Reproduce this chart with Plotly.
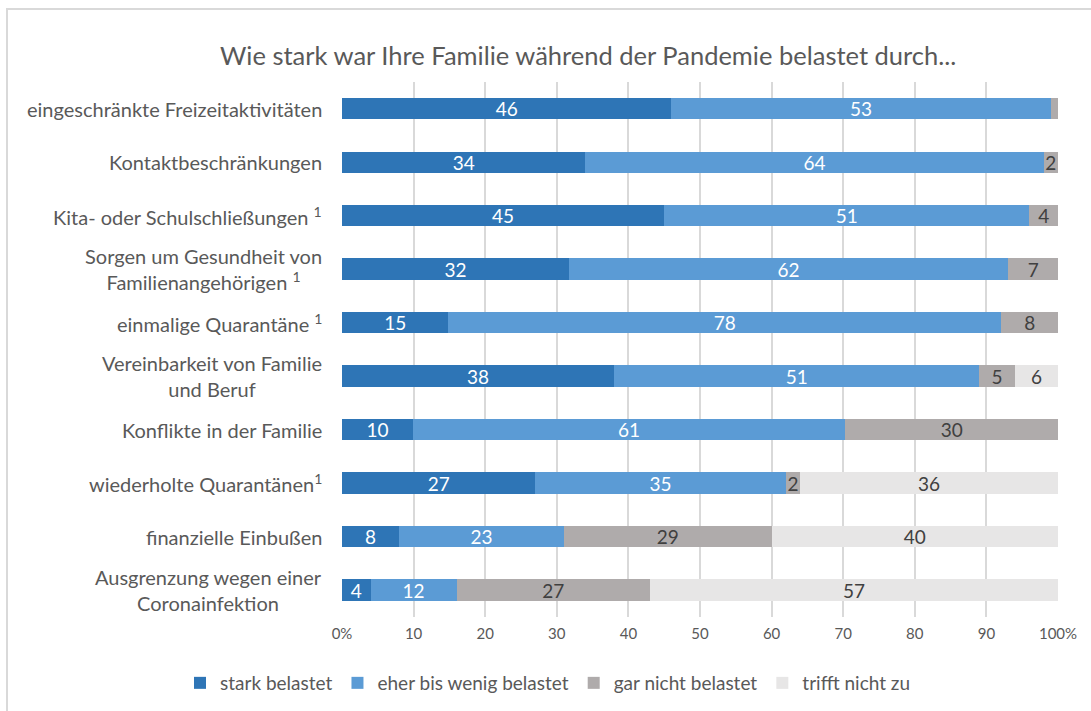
import plotly.graph_objects as go

categories = [
    "eingeschränkte Freizeitaktivitäten",
    "Kontaktbeschränkungen",
    "Kita- oder Schulschließungen <sup>1</sup>",
    "Sorgen um Gesundheit von<br>Familienangehörigen <sup>1</sup>",
    "einmalige Quarantäne <sup>1</sup>",
    "Vereinbarkeit von Familie<br>und Beruf",
    "Konflikte in der Familie",
    "wiederholte Quarantänen<sup>1</sup>",
    "finanzielle Einbußen",
    "Ausgrenzung wegen einer<br>Coronainfektion",
]
stark = [46, 34, 45, 32, 15, 38, 10, 27, 8, 4]
eher = [53, 64, 51, 62, 78, 51, 61, 35, 23, 12]
gar_nicht = [1, 2, 4, 7, 8, 5, 30, 2, 29, 27]
trifft_nicht = [0, 0, 0, 0, 0, 6, 0, 36, 40, 57]
# labels shown in bars (first grey segment unlabelled in original)
gar_nicht_labels = ["", "2", "4", "7", "8", "5", "30", "2", "29", "27"]

series_names = ["stark belastet", "eher bis wenig belastet", "gar nicht belastet", "trifft nicht zu"]
colors = ["#2E75B6", "#5B9BD5", "#AFABAB", "#E7E6E6"]
text_colors = ["white", "white", "#404040", "#404040"]

tick_vals = [0, 10, 20, 30, 40, 50, 60, 70, 80, 90, 100]
tick_text = ["0%", "10", "20", "30", "40", "50", "60", "70", "80", "90", "100%"]

FONT = "Lato"
y_keys = [f"c{i}" for i in range(len(categories))]

fig = go.Figure()
values = [stark, eher, gar_nicht, trifft_nicht]
labels = [
    [str(v) for v in stark],
    [str(v) for v in eher],
    gar_nicht_labels,
    [str(v) if v else "" for v in trifft_nicht],
]
for name, vals, lab, col, tcol in zip(series_names, values, labels, colors, text_colors):
    fig.add_trace(go.Bar(
        name=name, y=y_keys, x=vals, orientation="h",
        marker=dict(color=col, line=dict(width=0)),
        text=lab, texttemplate="%{text}", textposition="inside",
        insidetextanchor="middle", textangle=0,
        textfont=dict(color=tcol, size=19, family=FONT),
    ))

W, H = 1091, 711
ml, mr, mt, mb = 342, 33, 82, 94
pw, ph = W - ml - mr, H - mt - mb

def px_x(p):
    return (p - ml) / pw

def px_y(p):
    return (H - mb - p) / ph

annotations = []
for key, cat in zip(y_keys, categories):
    annotations.append(dict(
        xref="paper", yref="y", x=px_x(324), y=key, text=cat,
        xanchor="right", yanchor="middle", align="center", showarrow=False,
        font=dict(size=20, color="#595959", family=FONT),
    ))
annotations.append(dict(
    xref="paper", yref="paper", x=px_x(588), y=px_y(55),
    text="Wie stark war Ihre Familie während der Pandemie belastet durch...",
    xanchor="center", yanchor="middle", showarrow=False,
    font=dict(size=25.5, color="#595959", family=FONT),
))

fig.update_layout(
    width=W, height=H,
    margin=dict(l=ml, r=mr, t=mt, b=mb, autoexpand=False),
    barmode="stack", barnorm="percent", bargap=0.6,
    plot_bgcolor="white", paper_bgcolor="white",
    font=dict(family=FONT, color="#595959"),
    uniformtext=dict(minsize=19, mode="show"),
    showlegend=True,
    legend=dict(
        orientation="h", x=px_x(180), y=px_y(683), xanchor="left", yanchor="middle",
        font=dict(size=19, color="#595959", family=FONT),
        traceorder="normal", itemwidth=30,
    ),
    annotations=annotations,
    shapes=[dict(
        type="rect", xref="paper", yref="paper",
        x0=px_x(7), x1=px_x(1100), y0=px_y(9), y1=px_y(720),
        line=dict(color="#D9D9D9", width=2), layer="below",
    )],
)
fig.update_xaxes(
    range=[0, 100], tickvals=tick_vals, ticktext=tick_text,
    showgrid=True, gridcolor="#D9D9D9", gridwidth=1.5,
    zeroline=False, showline=False,
    tickfont=dict(size=15, color="#595959", family=FONT),
    ticks="", ticklabelstandoff=6,
)
fig.update_yaxes(
    categoryorder="array", categoryarray=y_keys, autorange="reversed",
    showticklabels=False, showgrid=False, zeroline=False, showline=False,
)

fig.write_html(
    "out.html",
    config={"displayModeBar": False},
    post_script="document.body.style.margin='0';document.body.style.overflow='hidden';",
)
